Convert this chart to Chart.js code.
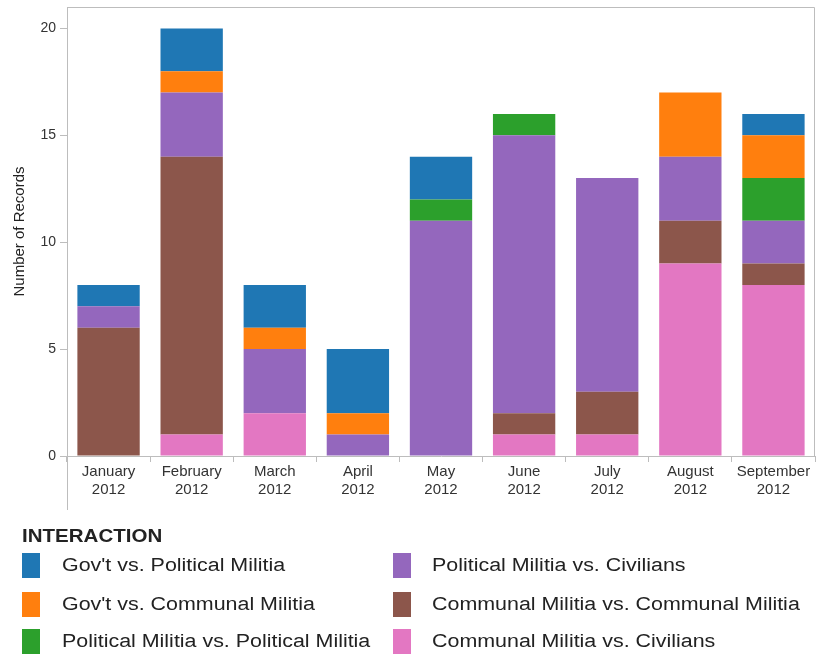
<!DOCTYPE html>
<html>
<head>
<meta charset="utf-8">
<script src="https://cdn.jsdelivr.net/npm/chart.js@4/dist/chart.umd.min.js"></script>
<style>
  body { margin: 0; background: #fff; font-family: "Liberation Sans", Arial, sans-serif; }
  #wrap { position: relative; width: 816px; height: 656px; }
  #chart { position: absolute; left: 0; top: 0; }
  #legend { position: absolute; left: 0; top: 0; width: 816px; height: 656px; pointer-events: none; }
  .lg-title { position: absolute; left: 22px; top: 526px; font-size: 18px; font-weight: bold; color: #222;
              transform: scaleX(1.14); transform-origin: left center; }
  .lg-sw { position: absolute; width: 18px; height: 25px; }
  .lg-tx { position: absolute; font-size: 18px; color: #222; white-space: nowrap; line-height: 25px;
           transform: scaleX(1.19); transform-origin: left center; }
</style>
</head>
<body>
<div id="wrap">
  <canvas id="chart" width="816" height="520"></canvas>
  <div id="legend"><div class="lg-title">INTERACTION</div></div>
</div>
<script>
var months = [['January', '2012'], ['February', '2012'], ['March', '2012'], ['April', '2012'], ['May', '2012'],
              ['June', '2012'], ['July', '2012'], ['August', '2012'], ['September', '2012']];

// series, bottom of the stack first
var seriesNames = ['Communal Militia vs. Civilians', 'Communal Militia vs. Communal Militia',
                   'Political Militia vs. Civilians', 'Political Militia vs. Political Militia',
                   "Gov't vs. Communal Militia", "Gov't vs. Political Militia"];
var seriesColors = ['#e377c2', '#8c564b', '#9467bd', '#2ca02c', '#ff7f0e', '#1f77b4'];

var communalCivilians = [0, 1, 2, 0, 0, 1, 1, 9, 8];
var communalCommunal  = [6, 13, 0, 0, 0, 1, 2, 2, 1];
var politicalCivilians = [1, 3, 3, 1, 11, 13, 10, 3, 2];
var politicalPolitical = [0, 0, 0, 0, 1, 1, 0, 0, 2];
var govCommunal        = [0, 1, 1, 1, 0, 0, 0, 3, 2];
var govPolitical       = [1, 2, 2, 3, 2, 0, 0, 0, 1];

var seriesValues = [communalCivilians, communalCommunal, politicalCivilians,
                    politicalPolitical, govCommunal, govPolitical];

var yTicks = [0, 5, 10, 15, 20];

var datasets = seriesNames.map(function (name, i) {
    return {
        label: name,
        data: seriesValues[i],
        backgroundColor: seriesColors[i],
        borderWidth: 0,
        categoryPercentage: 1,
        barPercentage: 0.75
    };
});

// frame on top/right of the plot and the left line running down past the labels
var framePlugin = {
    id: 'frame',
    afterDraw: function (chart) {
        var a = chart.chartArea, ctx = chart.ctx;
        ctx.save();
        ctx.strokeStyle = '#bdbdbd';
        ctx.lineWidth = 1;
        ctx.beginPath();
        ctx.moveTo(a.left + 0.5, 510);
        ctx.lineTo(a.left + 0.5, a.top + 0.5);
        ctx.lineTo(a.right - 0.5, a.top + 0.5);
        ctx.lineTo(a.right - 0.5, a.bottom);
        ctx.stroke();
        ctx.restore();
    }
};

new Chart(document.getElementById('chart'), {
    type: 'bar',
    data: { labels: months, datasets: datasets },
    options: {
        responsive: false,
        animation: false,
        layout: { padding: { top: 7, right: 1, left: 0, bottom: 0 } },
        plugins: { legend: { display: false }, tooltip: { enabled: false } },
        scales: {
            x: {
                stacked: true,
                afterFit: function (s) { s.height = 64; s.paddingLeft = 0; s.paddingRight = 0; },
                grid: { drawOnChartArea: false, offset: true, tickLength: 6, color: '#bdbdbd' },
                border: { color: '#bdbdbd' },
                ticks: { color: '#333', padding: 1, font: { family: 'Liberation Sans', size: 15 } }
            },
            y: {
                stacked: true,
                min: 0,
                max: 21,
                afterFit: function (s) { s.width = 67; s.paddingTop = 0; s.paddingBottom = 0; },
                afterBuildTicks: function (s) {
                    s.ticks = yTicks.map(function (v) { return { value: v }; });
                },
                grid: { drawOnChartArea: false, tickLength: 7, color: '#bdbdbd' },
                border: { color: '#bdbdbd' },
                ticks: { color: '#333', padding: 4, font: { family: 'Liberation Sans', size: 14 } },
                title: {
                    display: true,
                    text: 'Number of Records',
                    color: '#222',
                    padding: { top: 11, bottom: 0 },
                    font: { family: 'Liberation Sans', size: 15 }
                }
            }
        }
    },
    plugins: [framePlugin]
});

// legend: top of the stack first, filled column by column
var legend = document.getElementById('legend');
var rowsTop = [553, 592, 629];
var order = seriesNames.map(function (n, i) { return i; }).reverse();
order.forEach(function (idx, k) {
    var col = Math.floor(k / 3), row = k % 3;
    var sw = document.createElement('div');
    sw.className = 'lg-sw';
    sw.style.left = (col ? 393 : 22) + 'px';
    sw.style.top = rowsTop[row] + 'px';
    sw.style.background = seriesColors[idx];
    legend.appendChild(sw);
    var tx = document.createElement('div');
    tx.className = 'lg-tx';
    tx.style.left = (col ? 432 : 62) + 'px';
    tx.style.top = rowsTop[row] + 'px';
    tx.textContent = seriesNames[idx];
    legend.appendChild(tx);
});
</script>
</body>
</html>
